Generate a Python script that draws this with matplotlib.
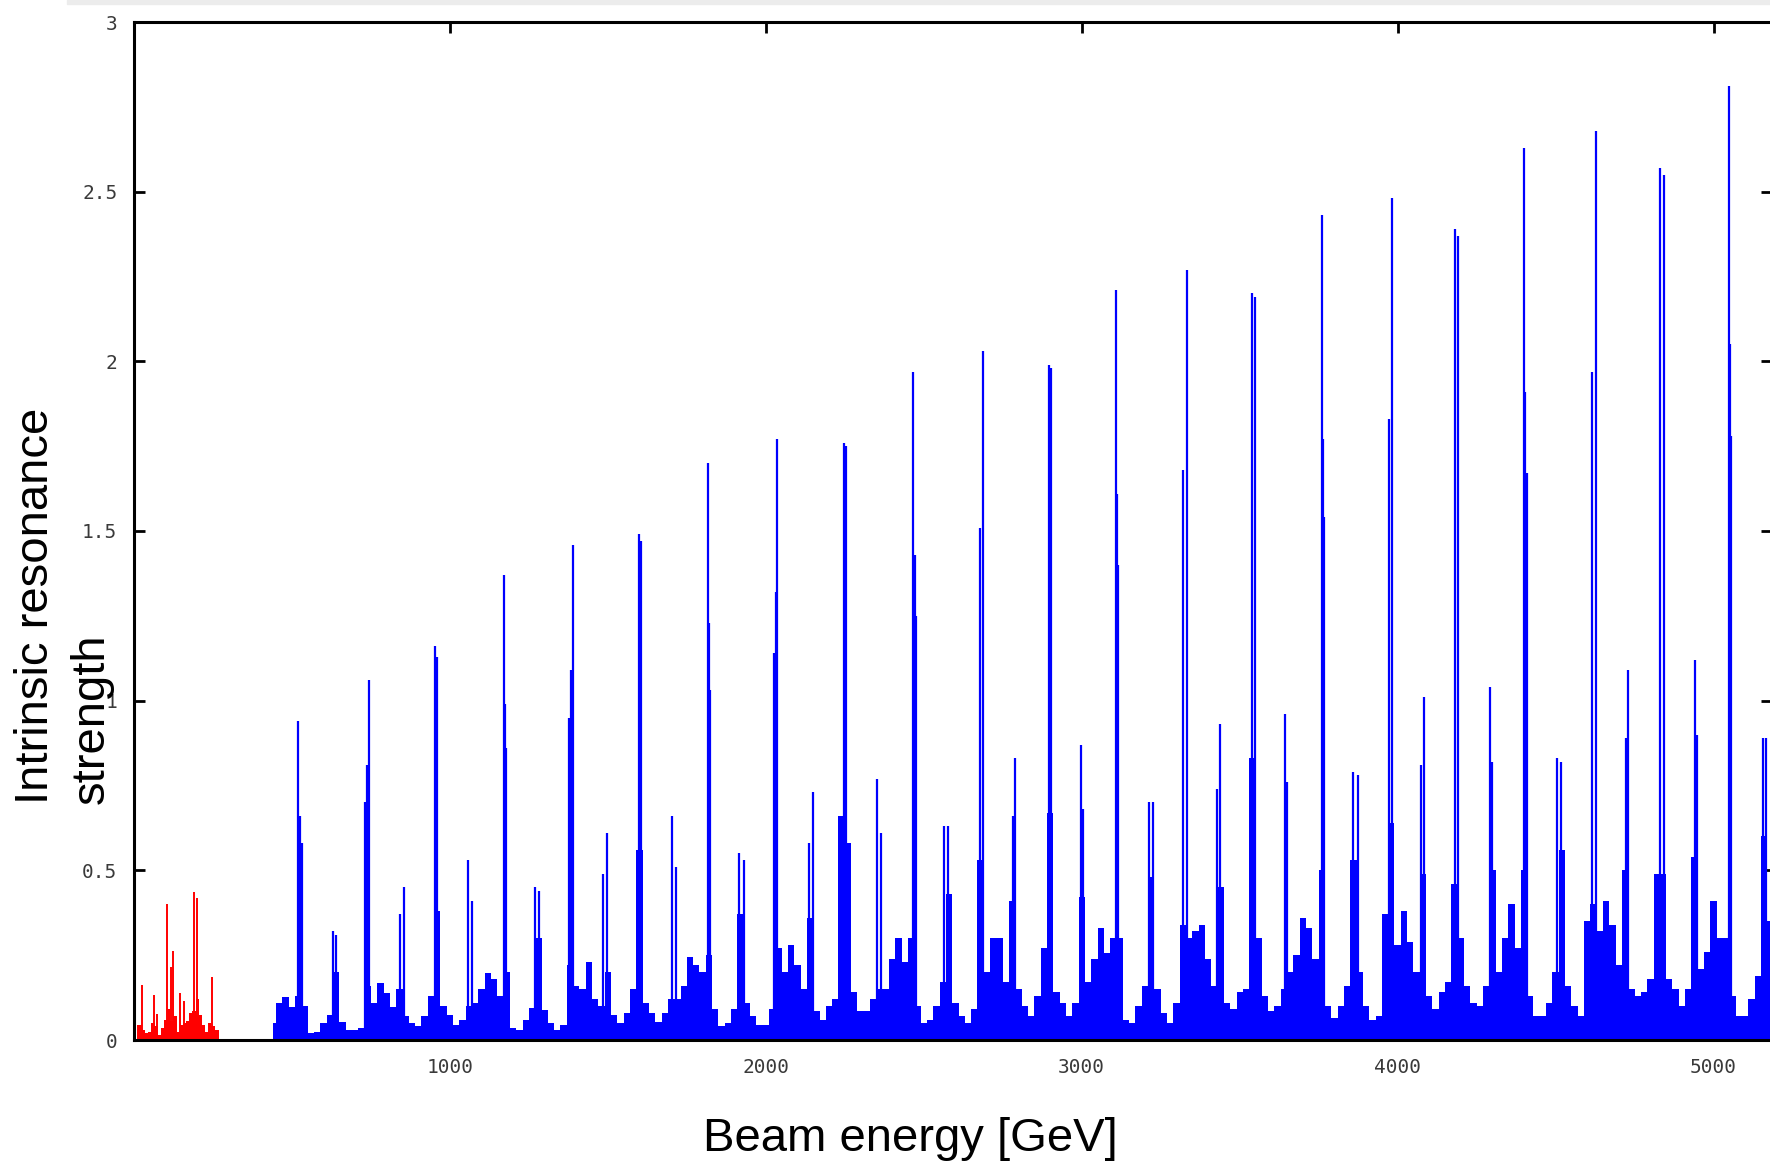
#!/usr/bin/env python3
"""Intrinsic resonance strength vs beam energy (impulse spectrum)."""

import numpy as np
import matplotlib
matplotlib.use("Agg")
import matplotlib.pyplot as plt
from matplotlib.patches import Rectangle

# --- data ------------------------------------------------------------------
# low-energy part (red): smooth floor sampled every 10 GeV + its spikes
red_floor_e = np.arange(10, 280, 10)
red_floor_v = [0.044, 0.044, 0.03, 0.02, 0.025, 0.05, 0.04, 0.015, 0.035, 0.06,
               0.09, 0.055, 0.07, 0.025, 0.045, 0.05, 0.055, 0.08, 0.085, 0.12,
               0.075, 0.045, 0.025, 0.05, 0.04, 0.03, 0.03]
red_spike_e = [24, 62, 73, 104, 117, 123, 147, 159, 191, 201, 246]
red_spike_v = [0.162, 0.133, 0.077, 0.40, 0.216, 0.263, 0.139, 0.115, 0.435, 0.417, 0.187]

# high-energy part (blue): floor sampled every 20 GeV from 440 GeV
blue_floor_e = np.arange(440, 5200, 20)
blue_floor_v = [
    0.05, 0.108, 0.128, 0.098, 0.13, 0.10, 0.02, 0.025, 0.05, 0.074,   # 440-620
    0.2, 0.054, 0.03, 0.028, 0.035, 0.16, 0.108, 0.167, 0.138, 0.098,  # 640-820
    0.15, 0.07, 0.05, 0.04, 0.07, 0.13, 0.38, 0.1, 0.074, 0.044,       # 840-1020
    0.06, 0.1, 0.11, 0.15, 0.196, 0.18, 0.13, 0.2, 0.034, 0.03,        # 1040-1220
    0.06, 0.093, 0.3, 0.088, 0.05, 0.03, 0.044, 0.22, 0.16, 0.15,      # 1240-1420
    0.23, 0.12, 0.10, 0.2, 0.074, 0.05, 0.08, 0.15, 0.56, 0.11,        # 1440-1620
    0.08, 0.054, 0.08, 0.12, 0.12, 0.16, 0.245, 0.22, 0.2, 0.25,       # 1640-1820
    0.09, 0.04, 0.05, 0.09, 0.37, 0.11, 0.07, 0.045, 0.045, 0.09,      # 1840-2020
    0.27, 0.2, 0.28, 0.22, 0.15, 0.36, 0.085, 0.06, 0.10, 0.12,        # 2040-2220
    0.66, 0.58, 0.14, 0.085, 0.085, 0.12, 0.15, 0.15, 0.24, 0.3,       # 2240-2420
    0.23, 0.3, 0.1, 0.05, 0.06, 0.1, 0.17, 0.43, 0.11, 0.07,           # 2440-2620
    0.05, 0.09, 0.53, 0.2, 0.3, 0.3, 0.17, 0.41, 0.15, 0.1,            # 2640-2820
    0.07, 0.13, 0.27, 0.67, 0.14, 0.11, 0.07, 0.11, 0.42, 0.17,        # 2840-3020
    0.24, 0.33, 0.255, 0.3, 0.3, 0.06, 0.05, 0.1, 0.16, 0.48,          # 3040-3220
    0.15, 0.08, 0.05, 0.11, 0.34, 0.3, 0.32, 0.34, 0.24, 0.16,         # 3240-3420
    0.45, 0.11, 0.09, 0.14, 0.15, 0.83, 0.3, 0.13, 0.085, 0.1,         # 3440-3620
    0.15, 0.2, 0.25, 0.36, 0.33, 0.24, 0.5, 0.1, 0.064, 0.1,           # 3640-3820
    0.16, 0.53, 0.2, 0.1, 0.06, 0.07, 0.37, 0.64, 0.28, 0.38,          # 3840-4020
    0.29, 0.2, 0.49, 0.13, 0.09, 0.14, 0.17, 0.46, 0.3, 0.16,          # 4040-4220
    0.11, 0.1, 0.16, 0.5, 0.2, 0.3, 0.4, 0.27, 0.5, 0.13,              # 4240-4420
    0.07, 0.07, 0.11, 0.2, 0.56, 0.16, 0.1, 0.07, 0.35, 0.4,           # 4440-4620
    0.32, 0.41, 0.34, 0.22, 0.5, 0.15, 0.13, 0.14, 0.18, 0.49,         # 4640-4820
    0.49, 0.18, 0.15, 0.1, 0.15, 0.54, 0.21, 0.26, 0.41, 0.3,          # 4840-5020
    0.3, 0.13, 0.07, 0.07, 0.12, 0.19, 0.6, 0.35,                      # 5040-5180
]

# strong resonances (groups of 1-3 lines)
major_e = [520, 526, 531, 732, 737, 743, 952, 960, 1170, 1174, 1178,
           1378, 1383, 1391, 1598, 1606, 1816, 1820, 1824, 2027, 2031, 2036,
           2248, 2255, 2467, 2471, 2475, 2679, 2689, 2895, 2904,
           3108, 3112, 3116, 3322, 3333, 3540, 3549, 3759, 3763, 3767,
           3973, 3983, 4182, 4191, 4400, 4404, 4408, 4616, 4627,
           4830, 4843, 5048, 5052, 5056]
major_v = [0.94, 0.66, 0.58, 0.70, 0.81, 1.06, 1.16, 1.13, 1.37, 0.99, 0.86,
           0.95, 1.09, 1.46, 1.49, 1.47, 1.70, 1.23, 1.03, 1.14, 1.32, 1.77,
           1.76, 1.75, 1.97, 1.43, 1.25, 1.51, 2.03, 1.99, 1.98,
           2.21, 1.61, 1.40, 1.68, 2.27, 2.20, 2.19, 2.43, 1.77, 1.54,
           1.83, 2.48, 2.39, 2.37, 2.63, 1.91, 1.67, 1.97, 2.68,
           2.57, 2.55, 2.81, 2.05, 1.78]

# weaker resonances between them
minor_e = [630, 641, 843, 855, 1058, 1069, 1270, 1283, 1486, 1497, 1703, 1715,
           1916, 1930, 2137, 2150, 2351, 2364, 2564, 2577, 2781, 2789, 2997, 3004,
           3213, 3226, 3427, 3437, 3643, 3651, 3859, 3873, 4075, 4083, 4292, 4299,
           4505, 4518, 4724, 4730, 4940, 4948, 5157, 5165]
minor_v = [0.32, 0.31, 0.37, 0.45, 0.53, 0.41, 0.45, 0.44, 0.49, 0.61, 0.66, 0.51,
           0.55, 0.53, 0.58, 0.73, 0.77, 0.61, 0.63, 0.63, 0.66, 0.83, 0.87, 0.68,
           0.70, 0.70, 0.74, 0.93, 0.96, 0.76, 0.79, 0.78, 0.81, 1.01, 1.04, 0.82,
           0.83, 0.82, 0.89, 1.09, 1.12, 0.90, 0.89, 0.89]

x_ticks = [1000, 2000, 3000, 4000, 5000]
y_ticks = [0, 0.5, 1, 1.5, 2, 2.5, 3]
y_tick_labels = ["0", "0.5", "1", "1.5", "2", "2.5", "3"]

BLUE = "#0000ff"
RED = "#ff0000"

# --- figure ------------------------------------------------------------------
W, H = 1770, 1162
fig = plt.figure(figsize=(W / 100, H / 100), dpi=100)
fig.patches.append(Rectangle((67 / W, 1 - 4 / H), 1, 4 / H, transform=fig.transFigure,
                             color="#ececec", zorder=0))

ax = fig.add_axes([134 / W, (H - 1040) / H, (1772 - 134) / W, (1040 - 22) / H])

ax.fill_between(red_floor_e, 0, red_floor_v, step="mid", color=RED, lw=0, zorder=3)
ax.vlines(red_spike_e, 0, red_spike_v, color=RED, lw=1.4, zorder=3)

ax.fill_between(blue_floor_e, 0, blue_floor_v, step="mid", color=BLUE, lw=0, zorder=3)
ax.vlines(major_e, 0, major_v, color=BLUE, lw=1.6, zorder=3)
ax.vlines(minor_e, 0, minor_v, color=BLUE, lw=1.6, zorder=3)

ax.set_xlim(0, 5185)
ax.set_ylim(0, 3)
ax.set_xticks(x_ticks)
ax.set_yticks(y_ticks)
ax.set_yticklabels(y_tick_labels)

for s in ax.spines.values():
    s.set_linewidth(2.2)
    s.set_zorder(5)

ax.tick_params(axis="both", direction="in", length=8, width=2, colors="black",
               labelcolor="#3a3a3a", top=True, right=True)
ax.tick_params(axis="x", bottom=False, pad=13)
ax.tick_params(axis="y", pad=12)
for lab in ax.get_xticklabels() + ax.get_yticklabels():
    lab.set_fontfamily("DejaVu Sans Mono")
    lab.set_fontsize(14)

fig.text(910 / W, 1 - 1139 / H, "Beam energy [GeV]", ha="center", va="center",
         fontsize=34, family="Liberation Sans")
fig.text(64 / W, 1 - 804 / H, "Intrinsic resonance\nstrength", rotation=90,
         ha="center", va="bottom", multialignment="left", fontsize=34,
         family="Liberation Sans", linespacing=1.35)

fig.savefig("out.png", dpi=100)
